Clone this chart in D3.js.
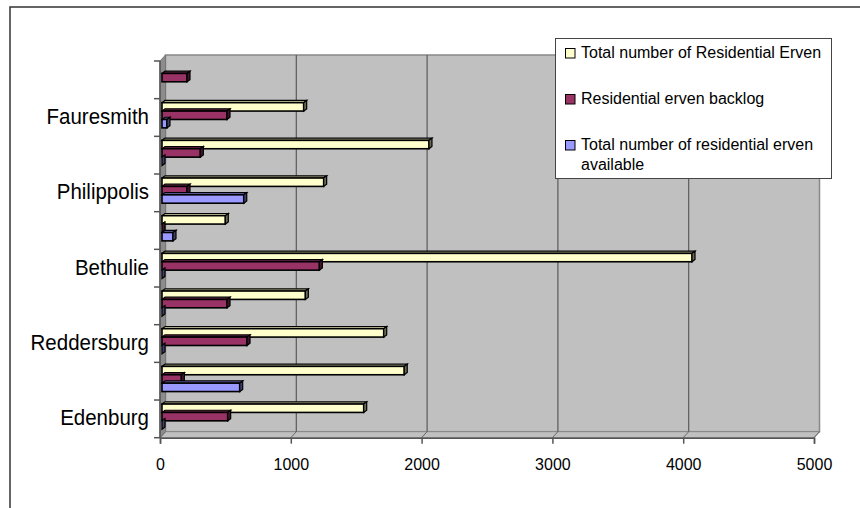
<!DOCTYPE html>
<html>
<head>
<meta charset="utf-8">
<script src="https://cdn.jsdelivr.net/npm/d3@7/dist/d3.min.js"></script>
<style>
  html, body { margin: 0; padding: 0; background: #ffffff; }
  svg { display: block; font-family: "Liberation Sans", Arial, sans-serif; }
</style>
</head>
<body>
<svg id="chart" width="860" height="508"></svg>
<script>
// ---- data (bottom to top) ----
const categories = ["Edenburg", "", "Reddersburg", "", "Bethulie", "", "Philippolis", "", "Fauresmith", ""];
const seriesNames = ["Total number of Residential Erven", "Residential erven backlog", "Total number of residential erven available"];
const totalErven = [1542, 1852, 1695, 1096, 4052, 484, 1236, 2041, 1083, null];
const backlog    = [502, 148, 650, 497, 1203, 0, 191, 293, 497, 191];
const available  = [0, 594, 0, 0, 0, 84, 625, 0, 38, null];
const xTicks = [0, 1000, 2000, 3000, 4000, 5000];
const colors = ["#FFFFCC", "#993366", "#9999FF"];

const svg = d3.select("#chart");

// outer chart border
svg.append("rect").attr("x", 10).attr("y", 7).attr("width", 870).attr("height", 520)
  .attr("fill", "none").attr("stroke", "#333").attr("stroke-width", 1.5);

// scales
const x = d3.scaleLinear().domain([0, 5000]).range([160, 814]);
const y = d3.scaleBand().domain(d3.range(categories.length)).range([437.7, 61]).paddingInner(0).paddingOuter(0);
const dx = 5.5, dy = -6; // 3D depth offset
const yTop = 61, yBot = 437.7;

// back wall
svg.append("rect").attr("x", x(0) + dx).attr("y", yTop + dy)
  .attr("width", x(5000) - x(0)).attr("height", yBot - yTop)
  .attr("fill", "#c0c0c0").attr("stroke", "#888").attr("stroke-width", 1.5);

// side wall
svg.append("polygon")
  .attr("points", [[x(0), yTop], [x(0) + dx, yTop + dy], [x(0) + dx, yBot + dy], [x(0), yBot]].map(p => p.join(",")).join(" "))
  .attr("fill", "#8c8c8c").attr("stroke", "#777").attr("stroke-width", 1);

// floor
svg.append("polygon")
  .attr("points", [[x(0), yBot], [x(0) + dx, yBot + dy], [x(5000) + dx, yBot + dy], [x(5000), yBot]].map(p => p.join(",")).join(" "))
  .attr("fill", "#c0c0c0").attr("stroke", "#888").attr("stroke-width", 1);

// gridlines on back wall + floor
xTicks.forEach(t => {
  if (t > 0 && t < 5000) {
    svg.append("line").attr("x1", x(t) + dx).attr("x2", x(t) + dx).attr("y1", yTop + dy).attr("y2", yBot + dy)
      .attr("stroke", "#5a5a5a").attr("stroke-width", 1.2);
  }
  svg.append("line").attr("x1", x(t)).attr("y1", yBot).attr("x2", x(t) + dx).attr("y2", yBot + dy)
    .attr("stroke", "#6a6a6a").attr("stroke-width", 1);
});

// bars
const barH = 8.4, groupOff = 4;
const bx = v => x(v) + 2;
const seriesData = [totalErven, backlog, available];
const bd = 3, bdy = -2.2;
seriesData.forEach((arr, s) => {
  const g = svg.append("g");
  arr.forEach((v, i) => {
    if (v === null) return;
    const y0 = y(i) + groupOff + s * barH;
    const x0 = bx(0), xe = bx(v);
    const col = d3.color(colors[s]);
    // top face
    g.append("polygon")
      .attr("points", [[x0, y0], [x0 + bd, y0 + bdy], [xe + bd, y0 + bdy], [xe, y0]].map(p => p.join(",")).join(" "))
      .attr("fill", col.darker(0.8)).attr("stroke", "#000").attr("stroke-width", 1.2);
    // front face
    g.append("rect").attr("x", x0).attr("y", y0).attr("width", Math.max(0, xe - x0)).attr("height", barH)
      .attr("fill", colors[s]).attr("stroke", "#000").attr("stroke-width", 1.6);
    // end face
    g.append("polygon")
      .attr("points", [[xe, y0], [xe + bd, y0 + bdy], [xe + bd, y0 + barH + bdy], [xe, y0 + barH]].map(p => p.join(",")).join(" "))
      .attr("fill", col.darker(2.5)).attr("stroke", "#000").attr("stroke-width", 1.2);
  });
});

// x axis (front)
const xAxis = d3.axisBottom(x).tickValues(xTicks).tickSize(6).tickFormat(d3.format("d"));
const ax = svg.append("g").attr("transform", `translate(0,${yBot})`).call(xAxis);
ax.select(".domain").attr("stroke", "#555").attr("stroke-width", 1.5);
ax.selectAll(".tick line").attr("stroke", "#555").attr("stroke-width", 1.5);
ax.selectAll(".tick text").attr("font-size", "16px").attr("fill", "#000")
  .attr("font-family", "Liberation Sans, Arial, sans-serif").attr("y", 21);

// y axis line and ticks
svg.append("line").attr("x1", x(0)).attr("x2", x(0)).attr("y1", yTop).attr("y2", yBot)
  .attr("stroke", "#555").attr("stroke-width", 1.5);
d3.range(categories.length + 1).forEach(k => {
  const yy = k < categories.length ? y(k) + y.bandwidth() : y(categories.length - 1);
  svg.append("line").attr("x1", x(0) - 6).attr("x2", x(0)).attr("y1", yy).attr("y2", yy)
    .attr("stroke", "#555").attr("stroke-width", 1.5);
});

// category labels
categories.forEach((c, i) => {
  if (!c) return;
  svg.append("text")
    .attr("transform", `translate(149,${y(i) + y.bandwidth() / 2 + 6.5}) scale(1,1.12)`)
    .attr("text-anchor", "end").attr("font-size", "20.5px").attr("fill", "#000").text(c);
});

// legend
const lg = svg.append("g");
lg.append("rect").attr("x", 555.5).attr("y", 38.5).attr("width", 276).attr("height", 140)
  .attr("fill", "#fff").attr("stroke", "#444").attr("stroke-width", 1);
const legendRows = [{ base: 58, lines: [seriesNames[0]] },
                    { base: 104, lines: [seriesNames[1]] },
                    { base: 150, lines: ["Total number of residential erven", "available"] }];
legendRows.forEach((r, s) => {
  lg.append("rect").attr("x", 565.5).attr("y", r.base - 9.5).attr("width", 9.5).attr("height", 9.5)
    .attr("fill", colors[s]).attr("stroke", "#000").attr("stroke-width", 1);
  r.lines.forEach((t, j) => {
    lg.append("text").attr("x", 581).attr("y", r.base + j * 20).attr("font-size", "16px").attr("fill", "#000").text(t);
  });
});
</script>
</body>
</html>
